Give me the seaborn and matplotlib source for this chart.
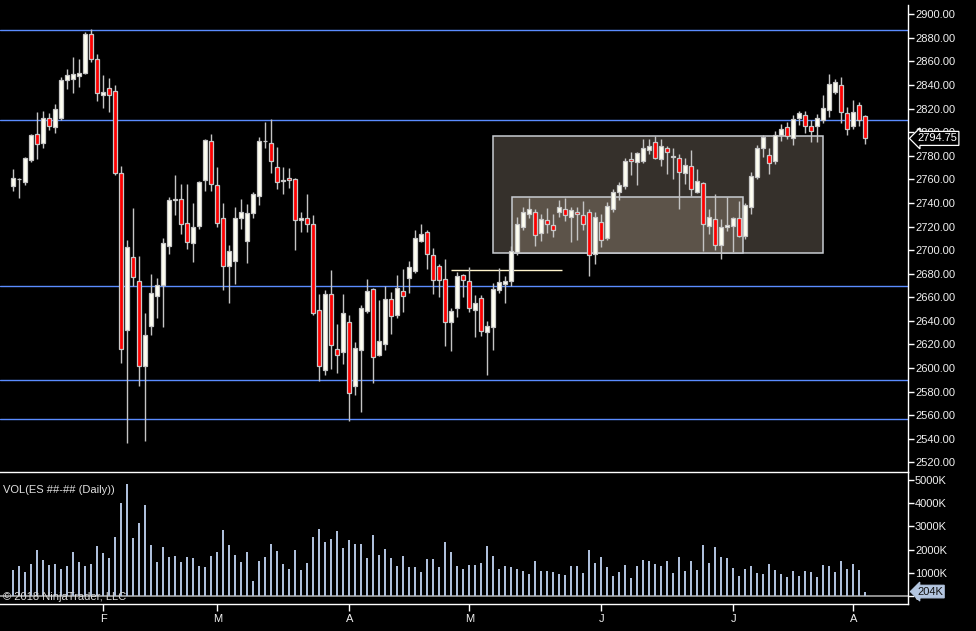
import numpy as np
import matplotlib
matplotlib.use('Agg')
import matplotlib.pyplot as plt
import matplotlib.transforms as mtransforms
from matplotlib.patches import Rectangle
import seaborn as sns

# daily ES bars, mid January to early August 2018 (one entry per session)
opens = [2754.5, 2760, 2758, 2776.75, 2798.25, 2791, 2811.75, 2804.75, 2812.25, 2844,
         2845.5, 2848, 2850.5, 2883, 2861.75, 2831.25, 2837.25, 2835, 2765, 2632,
         2694, 2673.75, 2602, 2636, 2661.25, 2670.75, 2703.75, 2742.75, 2743, 2722.75,
         2706.25, 2720.75, 2759.75, 2792.25, 2755, 2727, 2686.75, 2691, 2727, 2708,
         2731.75, 2745.5, 2792.25, 2790.5, 2770.25, 2759, 2761, 2760, 2725.25, 2727,
         2721.75, 2649, 2598, 2662.5, 2615.75, 2613.25, 2638.75, 2584.5, 2615, 2648.5,
         2666.75, 2610.75, 2620.5, 2658.25, 2645.25, 2665, 2676.5, 2682.5, 2707.5, 2715,
         2695.5, 2686.25, 2675.25, 2638.75, 2651, 2678.75, 2673.5, 2649.5, 2659, 2630.25,
         2635, 2665.75, 2671, 2673.5, 2698.5, 2719.25, 2730.25, 2732, 2714.25, 2725.25,
         2721.5, 2732, 2734.5, 2727.75, 2732.75, 2730, 2732, 2696.5, 2723.5, 2710.5,
         2734.5, 2749, 2754, 2777, 2774.5, 2776, 2784.5, 2791.5, 2777, 2786.25,
         2779.25, 2777.75, 2765, 2771, 2749.5, 2756.5, 2720.75, 2726, 2704.75, 2719.25,
         2720.75, 2727, 2712.25, 2736.25, 2761.75, 2787, 2780.25, 2776, 2798, 2804,
         2795.5, 2812.25, 2814.25, 2805, 2805, 2810, 2818.5, 2834.5, 2839.75, 2816,
         2805, 2823.5, 2813.5]
highs = [2768.75, 2761, 2779.25, 2798.5, 2817, 2818, 2816.5, 2824, 2846.5, 2853.5,
         2863.75, 2862, 2884.75, 2887.5, 2866.25, 2848.5, 2846, 2840, 2771.25, 2708.5,
         2735.75, 2695, 2646.5, 2679.75, 2676.25, 2710.5, 2745.25, 2763.75, 2756, 2756,
         2740, 2758.5, 2794.25, 2798.5, 2770.5, 2740, 2704.25, 2736.5, 2743.25, 2739,
         2749.25, 2796, 2808.5, 2811.25, 2787.5, 2770.5, 2769.5, 2761, 2732.25, 2747.5,
         2729.75, 2662.5, 2666, 2683, 2637.25, 2662.75, 2645, 2622, 2653.75, 2675.5,
         2667.5, 2657.75, 2669.5, 2664.5, 2679, 2684, 2690.5, 2717, 2721.75, 2717,
         2701.5, 2688.5, 2692.5, 2651, 2681.5, 2679.75, 2685.5, 2662, 2662, 2639.75,
         2672.5, 2684.75, 2678, 2703.5, 2728.5, 2736.25, 2744, 2734.5, 2731, 2735.5,
         2730.5, 2742.5, 2744.5, 2736.25, 2736.25, 2741.5, 2734.5, 2732.75, 2731, 2740.5,
         2752.25, 2757.5, 2777.75, 2783, 2783, 2794.25, 2794.25, 2796.75, 2794.25, 2788.25,
         2786.5, 2781.25, 2778, 2785, 2768.75, 2757.5, 2734.75, 2747.5, 2726.25, 2744.75,
         2728, 2741.5, 2740, 2766.25, 2788.75, 2797.5, 2787, 2801.25, 2807, 2808.5,
         2815, 2817.75, 2818, 2810, 2815.75, 2831.25, 2849.25, 2845.5, 2846.75, 2821,
         2827, 2825.25, 2814.25]
lows = [2750.5, 2744.5, 2755.25, 2775, 2777.25, 2787, 2802, 2799.5, 2810, 2837,
        2833.5, 2838.25, 2849.5, 2859.75, 2826.75, 2820.75, 2817.5, 2763.75, 2604, 2536.5,
        2669.75, 2585, 2538.25, 2628.25, 2642.75, 2634.75, 2696.75, 2729.75, 2713.5, 2701,
        2690.25, 2718, 2750.5, 2750.5, 2720, 2666.5, 2655.5, 2671.5, 2718.25, 2689.25,
        2727.5, 2738.25, 2787, 2765.75, 2751.5, 2748, 2752.75, 2700.25, 2715.25, 2715.5,
        2645, 2589, 2593.75, 2599.5, 2596, 2603.5, 2555.25, 2576.75, 2563, 2647,
        2587.5, 2610, 2615.25, 2629, 2642.75, 2647.5, 2663.5, 2680.75, 2706.75, 2684,
        2663, 2660.5, 2619, 2614.5, 2643, 2660.5, 2647.75, 2626.5, 2627, 2594,
        2615.25, 2663.5, 2655.5, 2669.5, 2696, 2716.75, 2727.5, 2703.75, 2707.5, 2714.5,
        2711.25, 2727.75, 2725, 2707, 2708.5, 2716.75, 2678.25, 2688.25, 2703, 2708.5,
        2732, 2742.25, 2751.5, 2763.5, 2755, 2773.5, 2781.5, 2777, 2771.25, 2764.5,
        2760.5, 2735, 2756, 2746, 2748.75, 2699.25, 2714, 2700, 2692.75, 2716.5,
        2698, 2711, 2709.5, 2731, 2760.5, 2779.25, 2764.75, 2773.25, 2792.75, 2794.5,
        2789.5, 2806.25, 2799.5, 2792, 2792, 2808, 2813, 2832.5, 2808, 2798,
        2802.5, 2805, 2790.25]
closes = [2761, 2760, 2777.75, 2797.5, 2790.25, 2811.75, 2805, 2819.5, 2844, 2848.25,
          2849, 2850, 2883, 2861.75, 2833, 2833.75, 2831.25, 2765, 2615.75, 2702.5,
          2677, 2602, 2628, 2663.5, 2670.5, 2706, 2742.5, 2742.75, 2722.5, 2707,
          2720, 2757.75, 2793.5, 2755.75, 2722.75, 2686.25, 2699, 2727.25, 2732, 2731.25,
          2747.25, 2792.25, 2792.25, 2776, 2757.5, 2759, 2759.25, 2725.75, 2727, 2721.75,
          2646.25, 2601.5, 2662.5, 2619.25, 2610.75, 2646.25, 2578.5, 2616.75, 2650.5, 2665,
          2609, 2622.5, 2658.25, 2644.5, 2667.5, 2660.75, 2685.5, 2710, 2713.5, 2696.5,
          2675, 2674.25, 2638.75, 2648, 2678, 2675, 2650.5, 2655.5, 2631, 2635.25,
          2666.75, 2673.25, 2673.5, 2699, 2721.75, 2732.75, 2734.5, 2712.5, 2726, 2721.75,
          2716.75, 2736.25, 2729.5, 2733.75, 2731, 2721.75, 2695.5, 2727.75, 2709, 2737,
          2749, 2755, 2775.25, 2775.25, 2782, 2786.25, 2788, 2778.5, 2788, 2783.5,
          2779.25, 2766, 2772, 2752.25, 2759, 2721.75, 2727.75, 2704.75, 2719.25, 2721,
          2727, 2712.25, 2738, 2762.5, 2787, 2796.25, 2773.5, 2798, 2802.5, 2796.5,
          2811, 2816, 2805, 2800.75, 2811.75, 2820.25, 2840.5, 2842.25, 2816.75, 2802.5,
          2816.75, 2810, 2794.75]
volume_k = [1129, 1300, 1043, 1386, 1986, 1557, 1343, 1386, 1172, 1300,
            1900, 1472, 1300, 1386, 2158, 1858, 1643, 2543, 4001, 4816,
            2500, 3144, 3915, 2200, 1472, 2115, 1686, 1729, 1472, 1686,
            1643, 1300, 1257, 1729, 1900, 2844, 2200, 1772, 1472, 1900,
            657, 1515, 1686, 2243, 1943, 1386, 1172, 1986, 1129, 1429,
            2543, 2887, 2329, 2458, 2801, 2072, 2415, 2243, 2243, 1643,
            2629, 1772, 2029, 1643, 1300, 1729, 1257, 1257, 1043, 1600,
            1600, 1257, 2329, 1900, 1300, 1172, 1343, 1343, 1429, 2158,
            1729, 1172, 1300, 1257, 1172, 1086, 957, 1515, 1086, 1086,
            1043, 957, 915, 1300, 1300, 1000, 1986, 1429, 1686, 1257,
            872, 1043, 1343, 786, 1300, 1557, 1515, 1386, 1300, 1515,
            1000, 1686, 1086, 1515, 1129, 2200, 1429, 2115, 1686, 1643,
            1215, 872, 1172, 1300, 1000, 957, 1386, 1129, 957, 829,
            1086, 872, 1086, 1043, 829, 1343, 1300, 1043, 1515, 1172,
            1386, 1129, 204]

# month starts (bar index) for the bottom axis
month_bars = [15, 34, 56, 76, 98, 120, 140]
month_labels = ['F', 'M', 'A', 'M', 'J', 'J', 'A']

# drawn objects
levels = [2886.5, 2810, 2669.25, 2589.5, 2556.5]
outer_zone = (80, 135, 2697.25, 2796.75)   # start bar, end bar, low, high
inner_zone = (83.2, 121.7, 2697.25, 2744.75)
white_line = (73, 91.4, 2682.75)
last_price = 2794.75

sns.set_theme(style='dark', rc={'axes.facecolor': 'black', 'figure.facecolor': 'black',
                                'axes.grid': False})
plt.rcParams['font.family'] = ['Liberation Sans', 'DejaVu Sans']

W, H = 976, 631
fig = plt.figure(figsize=(W / 100, H / 100), dpi=100)
ax = fig.add_axes([0, 1 - 472 / H, 908 / W, (472 - 5) / H])
axv = fig.add_axes([0, 1 - 604 / H, 908 / W, (604 - 472) / H])

idx = np.arange(len(closes))
o = np.array(opens)
c = np.array(closes)
hi = np.array(highs)
lo = np.array(lows)

# zones and lines
for (x0, x1, y0, y1), fc in [(outer_zone, '#35302b'), (inner_zone, '#5c5349')]:
    ax.add_patch(Rectangle((x0, y0), x1 - x0, y1 - y0, facecolor=fc,
                           edgecolor='#c8ccd2', lw=1.1, zorder=1))
for lv in levels:
    ax.axhline(lv, color='#5b8cff', lw=1, zorder=1.5)
ax.hlines(white_line[2], white_line[0], white_line[1], color='#fff4cc', lw=1, zorder=1.6)

# candles
ax.vlines(idx, lo, hi, color='#c4c4c4', lw=1, zorder=2)
up = c >= o
body_col = np.where(up, '#fffff2', '#ff0000')
ax.bar(idx, np.maximum(np.abs(c - o), 0.3), bottom=np.minimum(o, c), width=0.64,
       color=body_col, edgecolor='#c8c8c8', linewidth=0.9, zorder=3)

ax.set_xlim(-13.3 / 6, (908 - 13.3) / 6)
ax.set_ylim(2511.8, 2907.9)
for s in ['left', 'top', 'bottom']:
    ax.spines[s].set_visible(False)
ax.spines['right'].set_color('white')
ax.spines['right'].set_linewidth(1)
ax.yaxis.tick_right()
ax.set_yticks(np.arange(2520, 2901, 20))
ax.set_yticklabels([f'{v:.2f}' for v in np.arange(2520, 2901, 20)])
ax.tick_params(axis='y', colors='white', labelcolor='#f0f0f0', labelsize=8,
               length=4, width=1, pad=1, right=True, left=False)
ax.set_xticks([])

tr = mtransforms.blended_transform_factory(ax.transAxes, ax.transData)
ax.text(1 + 9 / 908, last_price, f'{last_price:.2f}', transform=tr, ha='left', va='center',
        fontsize=8, color='white', zorder=10, clip_on=False,
        bbox=dict(boxstyle='larrow,pad=0.18', fc='black', ec='white', lw=0.9))

# volume
sns.barplot(x=idx, y=volume_k, native_scale=True, color='#aebfdb', saturation=1,
            width=0.34, linewidth=0, ax=axv)
axv.axhline(0, color='#a8a8a8', lw=1.2, zorder=0.5)
axv.set_xlim(-13.3 / 6, (908 - 13.3) / 6)
axv.set_ylim(-330, 5335)
axv.spines['left'].set_visible(False)
for s in ['top', 'bottom', 'right']:
    axv.spines[s].set_color('white')
    axv.spines[s].set_linewidth(1)
axv.yaxis.tick_right()
axv.set_yticks([0, 1000, 2000, 3000, 4000, 5000])
axv.set_yticklabels(['0', '1000K', '2000K', '3000K', '4000K', '5000K'])
axv.tick_params(axis='y', colors='white', labelcolor='#f0f0f0', labelsize=8,
                length=4, width=1, pad=1, right=True, left=False)
axv.set_xticks(month_bars)
axv.set_xticklabels(month_labels)
axv.tick_params(axis='x', colors='white', labelcolor='#f0f0f0', labelsize=8,
                length=5, width=1, pad=2, bottom=True)
axv.set_xlabel('')
axv.set_ylabel('')

trv = mtransforms.blended_transform_factory(axv.transAxes, axv.transData)
axv.text(1 + 9 / 908, volume_k[-1], f'{volume_k[-1]}K', transform=trv, ha='left',
         va='center', fontsize=8, color='#111111', zorder=10, clip_on=False,
         bbox=dict(boxstyle='larrow,pad=0.12', fc='#b4c6e0', ec='#b4c6e0', lw=0.8))
axv.text(3 / 908, 0.864, 'VOL(ES ##-## (Daily))', transform=axv.transAxes,
         ha='left', va='center', fontsize=8, color='#e0e0e0')
axv.text(3 / 908, 0.05, '\u00a9 2018 NinjaTrader, LLC', transform=axv.transAxes,
         ha='left', va='center', fontsize=8, color='#d8d8d8', zorder=5)

plt.savefig('out.png', dpi=100, facecolor='black')
plt.close()
